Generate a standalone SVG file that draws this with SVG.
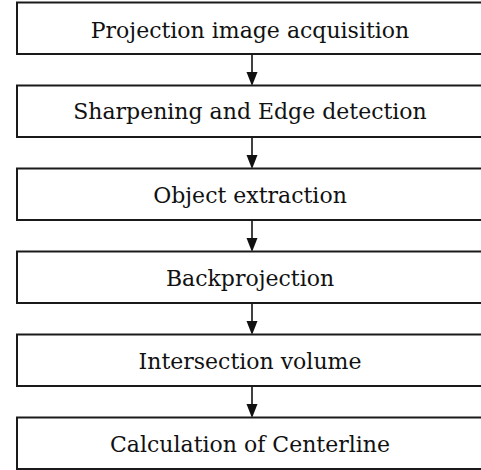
<svg xmlns="http://www.w3.org/2000/svg" width="481" height="470" viewBox="0 0 481 470">
<style>
.box{fill:#fff;stroke:#1a1a1a;stroke-width:2}
.lbl{font-family:"DejaVu Serif","Liberation Serif",serif;font-size:22px;fill:#111;text-anchor:middle}
.con{stroke:#111;stroke-width:1.6;fill:none}
.head{fill:#111}
</style>
<rect width="481" height="470" fill="#fff"/>
<g id="connectors">
<line class="con" x1="252" y1="54" x2="252" y2="74"/><path class="head" d="M246.5,72 L257.5,72 L252,86 Z"/>
<line class="con" x1="252" y1="137" x2="252" y2="157"/><path class="head" d="M246.5,155 L257.5,155 L252,169 Z"/>
<line class="con" x1="252" y1="220" x2="252" y2="240"/><path class="head" d="M246.5,238 L257.5,238 L252,252 Z"/>
<line class="con" x1="252" y1="303" x2="252" y2="323"/><path class="head" d="M246.5,321 L257.5,321 L252,335 Z"/>
<line class="con" x1="252" y1="386" x2="252" y2="406"/><path class="head" d="M246.5,404 L257.5,404 L252,418 Z"/>
</g>
<g id="n1"><rect class="box" x="17" y="2.5" width="470" height="51.5"/><text class="lbl" x="250" y="38">Projection image acquisition</text></g>
<g id="n2"><rect class="box" x="17" y="85.5" width="470" height="51.5"/><text class="lbl" x="250" y="119">Sharpening and Edge detection</text></g>
<g id="n3"><rect class="box" x="17" y="168.5" width="470" height="51.5"/><text class="lbl" x="250" y="203">Object extraction</text></g>
<g id="n4"><rect class="box" x="17" y="251.5" width="470" height="51.5"/><text class="lbl" x="250" y="286">Backprojection</text></g>
<g id="n5"><rect class="box" x="17" y="334.5" width="470" height="51.5"/><text class="lbl" x="250" y="369">Intersection volume</text></g>
<g id="n6"><rect class="box" x="17" y="417.5" width="470" height="51.5"/><text class="lbl" x="250" y="452">Calculation of Centerline</text></g>
</svg>
